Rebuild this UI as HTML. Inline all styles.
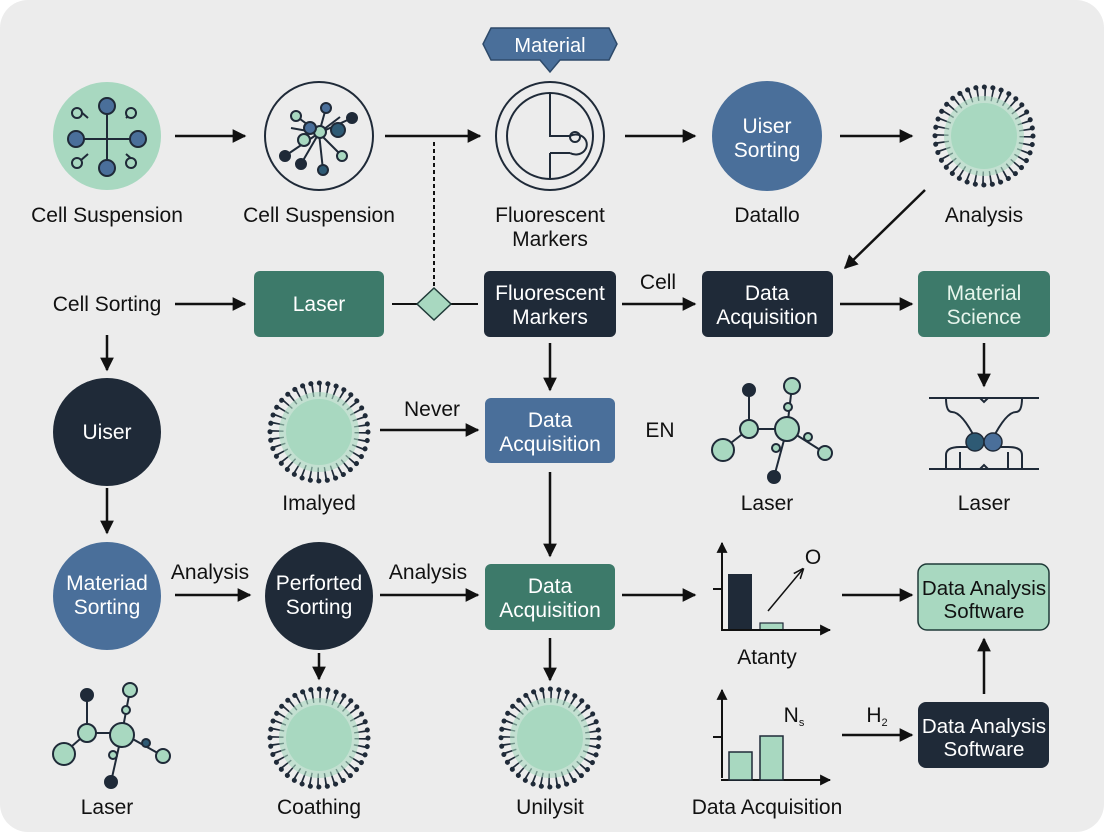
<!DOCTYPE html>
<html><head><meta charset="utf-8"><style>
html,body{margin:0;padding:0;background:#fff}
svg{display:block}
text{font-family:"Liberation Sans",sans-serif;}
</style></head><body>
<svg width="1104" height="832" viewBox="0 0 1104 832" xmlns="http://www.w3.org/2000/svg">
<defs>
<marker id="a" viewBox="0 0 10 10" refX="9" refY="5" markerWidth="5.5" markerHeight="5.5" orient="auto"><path d="M0,0L10,5L0,10z" fill="#111"/></marker>
<marker id="s" viewBox="0 0 10 10" refX="9" refY="5" markerWidth="7" markerHeight="7" orient="auto"><path d="M0,1L10,5L0,9" fill="none" stroke="#111" stroke-width="1.5"/></marker>
<g id="spk">
<circle r="42" fill="none" stroke="#1f2a38" stroke-width="13" stroke-dasharray="1.6 5.73"/>
<circle r="49" fill="none" stroke="#1f2a38" stroke-width="5" stroke-linecap="round" stroke-dasharray="0.1 8.45"/>
<circle r="40" fill="#a8d8c0" opacity="0.6"/>
<circle r="33" fill="#a8d8c0"/>
</g>
</defs>
<rect x="0" y="0" width="1104" height="832" rx="28" fill="#ececec"/>
<g stroke="#111" stroke-width="2.5" fill="none" marker-end="url(#a)">
<line x1="175" y1="136" x2="245" y2="136"/>
<line x1="385" y1="136" x2="480" y2="136"/>
<line x1="625" y1="136" x2="695" y2="136"/>
<line x1="840" y1="136" x2="912" y2="136"/>
<line x1="925" y1="190" x2="845" y2="268"/>
<line x1="175" y1="304" x2="245" y2="304"/>
<line x1="622" y1="304" x2="695" y2="304"/>
<line x1="840" y1="304" x2="912" y2="304"/>
<line x1="107" y1="335" x2="107" y2="370"/>
<line x1="550" y1="343" x2="550" y2="390"/>
<line x1="984" y1="343" x2="984" y2="386"/>
<line x1="380" y1="430" x2="478" y2="430"/>
<line x1="107" y1="488" x2="107" y2="533"/>
<line x1="550" y1="472" x2="550" y2="556"/>
<line x1="175" y1="595" x2="250" y2="595"/>
<line x1="380" y1="595" x2="478" y2="595"/>
<line x1="622" y1="595" x2="695" y2="595"/>
<line x1="842" y1="595" x2="912" y2="595"/>
<line x1="319" y1="653" x2="319" y2="679"/>
<line x1="550" y1="638" x2="550" y2="680"/>
<line x1="984" y1="694" x2="984" y2="639"/>
<line x1="842" y1="735" x2="912" y2="735"/>
</g>
<line x1="434" y1="142" x2="434" y2="288" stroke="#111" stroke-width="2" stroke-dasharray="4 3"/>
<line x1="392" y1="304" x2="478" y2="304" stroke="#111" stroke-width="2"/>
<path d="M434,288L451,304L434,320L417,304z" fill="#a8d8c0" stroke="#1f3a38" stroke-width="1.5"/>

<!-- row1 -->
<circle cx="107" cy="136" r="54" fill="#a8d8c0"/>
<g stroke="#1f2a38" stroke-width="2" fill="#4a6f9a">
<line x1="107" y1="106" x2="107" y2="166"/><line x1="75" y1="139" x2="139" y2="139"/>
<line x1="80" y1="111" x2="88" y2="118"/><line x1="134" y1="111" x2="126" y2="118"/>
<line x1="80" y1="161" x2="88" y2="154"/><line x1="134" y1="161" x2="126" y2="154"/>
<circle cx="107" cy="106" r="8"/><circle cx="107" cy="168" r="8"/><circle cx="76" cy="139" r="8"/><circle cx="138" cy="139" r="8"/>
<circle cx="77" cy="113" r="5" fill="#a8d8c0"/><circle cx="131" cy="113" r="5" fill="#a8d8c0"/>
<circle cx="77" cy="163" r="5" fill="#a8d8c0"/><circle cx="131" cy="163" r="5" fill="#a8d8c0"/>
</g>
<circle cx="319" cy="136" r="54" fill="none" stroke="#1f2a38" stroke-width="2"/>
<g stroke="#1f2a38" stroke-width="2">
<line x1="319" y1="133" x2="296" y2="116"/><line x1="319" y1="133" x2="326" y2="108"/><line x1="319" y1="133" x2="340" y2="117"/><line x1="319" y1="133" x2="352" y2="118"/><line x1="319" y1="133" x2="342" y2="156"/><line x1="319" y1="133" x2="323" y2="170"/><line x1="319" y1="133" x2="301" y2="164"/><line x1="319" y1="133" x2="285" y2="156"/><line x1="319" y1="133" x2="291" y2="128"/>
<circle cx="296" cy="116" r="5" fill="#a8d8c0"/><circle cx="326" cy="108" r="5" fill="#4a6f9a"/><circle cx="338" cy="130" r="7" fill="#2e5a74"/><circle cx="352" cy="118" r="5" fill="#1f2a38"/><circle cx="342" cy="156" r="5" fill="#a8d8c0"/><circle cx="323" cy="170" r="5" fill="#2e5a74"/><circle cx="301" cy="164" r="5" fill="#1f2a38"/><circle cx="285" cy="156" r="5" fill="#1f2a38"/><circle cx="304" cy="140" r="6" fill="#a8d8c0"/><circle cx="320" cy="132" r="6" fill="#a8d8c0"/><circle cx="310" cy="128" r="6" fill="#4a6f9a"/>
</g>
<circle cx="550" cy="136" r="54" fill="none" stroke="#1f2a38" stroke-width="2"/>
<circle cx="550" cy="136" r="43" fill="none" stroke="#1f2a38" stroke-width="2"/>
<path d="M550,93V136H570M550,153V179M550,153H570" fill="none" stroke="#1f2a38" stroke-width="2"/>
<path d="M570,136A11,10 0 1 1 570,153" fill="none" stroke="#1f2a38" stroke-width="2"/>
<circle cx="575" cy="137" r="5" fill="none" stroke="#1f2a38" stroke-width="2"/>
<path d="M491,28H609L617,44L609,60H560L550,72L540,60H491L483,44z" fill="#4a6f9a" stroke="#2e4a6a" stroke-width="1.5"/>
<text x="550" y="52" font-size="20" fill="#fff" text-anchor="middle">Material</text>
<circle cx="767" cy="136" r="55" fill="#4a6f9a"/>
<text x="767" y="133" font-size="21" fill="#fff" text-anchor="middle">Uiser</text>
<text x="767" y="157" font-size="21" fill="#fff" text-anchor="middle">Sorting</text>
<use href="#spk" x="984" y="136"/>
<g font-size="21" fill="#111" text-anchor="middle">
<text x="107" y="222">Cell Suspension</text>
<text x="319" y="222">Cell Suspension</text>
<text x="550" y="222">Fluorescent</text><text x="550" y="246">Markers</text>
<text x="767" y="222">Datallo</text>
<text x="984" y="222">Analysis</text>
<text x="107" y="311">Cell Sorting</text>
<text x="658" y="289">Cell</text>
</g>
<!-- row2 boxes -->
<rect x="254" y="271" width="130" height="66" rx="6" fill="#3d7a6a"/>
<text x="319" y="311" font-size="21" fill="#fff" text-anchor="middle">Laser</text>
<rect x="484" y="271" width="132" height="66" rx="6" fill="#1f2a38"/>
<text x="550" y="300" font-size="21" fill="#fff" text-anchor="middle">Fluorescent</text><text x="550" y="324" font-size="21" fill="#fff" text-anchor="middle">Markers</text>
<rect x="702" y="271" width="131" height="66" rx="6" fill="#1f2a38"/>
<text x="767" y="300" font-size="21" fill="#fff" text-anchor="middle">Data</text><text x="767" y="324" font-size="21" fill="#fff" text-anchor="middle">Acquisition</text>
<rect x="918" y="271" width="132" height="66" rx="6" fill="#3d7a6a"/>
<text x="984" y="300" font-size="21" fill="#e6f5ec" text-anchor="middle">Material</text><text x="984" y="324" font-size="21" fill="#e6f5ec" text-anchor="middle">Science</text>
<!-- row3 -->
<circle cx="107" cy="432" r="54" fill="#1f2a38"/>
<text x="107" y="439" font-size="21" fill="#fff" text-anchor="middle">Uiser</text>
<use href="#spk" x="319" y="432"/>
<rect x="485" y="398" width="130" height="65" rx="6" fill="#4a6f9a"/>
<text x="550" y="427" font-size="21" fill="#fff" text-anchor="middle">Data</text><text x="550" y="451" font-size="21" fill="#fff" text-anchor="middle">Acquisition</text>
<g stroke="#1f2a38" stroke-width="2">
<line x1="749" y1="429" x2="787" y2="429"/><line x1="749" y1="429" x2="723" y2="449"/><line x1="749" y1="429" x2="749" y2="390"/><line x1="787" y1="429" x2="792" y2="386"/><line x1="787" y1="429" x2="825" y2="453"/><line x1="787" y1="429" x2="774" y2="477"/>
<circle cx="749" cy="390" r="6" fill="#1f2a38"/><circle cx="792" cy="386" r="8" fill="#a8d8c0"/><circle cx="788" cy="407" r="4" fill="#a8d8c0"/><circle cx="749" cy="429" r="9" fill="#a8d8c0"/><circle cx="787" cy="429" r="12" fill="#a8d8c0"/><circle cx="723" cy="450" r="11" fill="#a8d8c0"/><circle cx="808" cy="437" r="4" fill="#a8d8c0"/><circle cx="825" cy="453" r="7" fill="#a8d8c0"/><circle cx="776" cy="448" r="4" fill="#a8d8c0"/><circle cx="774" cy="477" r="6" fill="#1f2a38"/>
</g>
<g stroke="#1f2a38" stroke-width="2" fill="none">
<line x1="929" y1="398" x2="1039" y2="398"/><line x1="929" y1="469" x2="1039" y2="469"/>
<path d="M946,398Q946,412 952,412Q962,412 976,440M1022,398Q1022,412 1016,412Q1006,412 992,440"/>
<path d="M946,469V455Q946,447 960,447H976M1022,469V455Q1022,447 1008,447H992M960,469V452M1008,469V452"/>
<path d="M980,398l4,4l4,-4M980,469l4,-4l4,4"/>
</g>
<circle cx="975" cy="442" r="9" fill="#2e5a74" stroke="#1f2a38" stroke-width="1.5"/>
<circle cx="993" cy="442" r="9" fill="#4a6f9a" stroke="#1f2a38" stroke-width="1.5"/>
<g font-size="21" fill="#111" text-anchor="middle">
<text x="319" y="510">Imalyed</text>
<text x="432" y="416">Never</text>
<text x="660" y="437">EN</text>
<text x="767" y="510">Laser</text>
<text x="984" y="510">Laser</text>
<text x="210" y="579">Analysis</text>
<text x="428" y="579">Analysis</text>
<text x="767" y="664">Atanty</text>
<text x="107" y="814">Laser</text>
<text x="319" y="814">Coathing</text>
<text x="550" y="814">Unilysit</text>
<text x="767" y="814">Data Acquisition</text>
<text x="813" y="564" font-size="21">O</text>
<text x="794" y="722">N<tspan font-size="11" dy="4">s</tspan></text>
<text x="877" y="722">H<tspan font-size="11" dy="4">2</tspan></text>
</g>
<!-- row4 -->
<circle cx="107" cy="596" r="54" fill="#4a6f9a"/>
<text x="107" y="590" font-size="21" fill="#fff" text-anchor="middle">Materiad</text><text x="107" y="614" font-size="21" fill="#fff" text-anchor="middle">Sorting</text>
<circle cx="319" cy="596" r="54" fill="#1f2a38"/>
<text x="319" y="590" font-size="21" fill="#fff" text-anchor="middle">Perforted</text><text x="319" y="614" font-size="21" fill="#fff" text-anchor="middle">Sorting</text>
<rect x="485" y="564" width="130" height="66" rx="6" fill="#3d7a6a"/>
<text x="550" y="593" font-size="21" fill="#fff" text-anchor="middle">Data</text><text x="550" y="617" font-size="21" fill="#fff" text-anchor="middle">Acquisition</text>
<rect x="728" y="574" width="24" height="56" fill="#1f2a38"/>
<rect x="760" y="623" width="23" height="7" fill="#a8d8c0" stroke="#1f2a38" stroke-width="1.2"/>
<g stroke="#111" stroke-width="2" fill="none">
<line x1="722" y1="631" x2="722" y2="543" marker-end="url(#a)"/><line x1="721" y1="630" x2="830" y2="630" marker-end="url(#a)"/><line x1="713" y1="589" x2="722" y2="589"/>
<line x1="722" y1="778" x2="722" y2="690" marker-end="url(#a)"/><line x1="721" y1="780" x2="830" y2="780" marker-end="url(#a)"/><line x1="713" y1="737" x2="722" y2="737"/>
</g>
<line x1="768" y1="611" x2="803" y2="569" stroke="#111" stroke-width="1.5" marker-end="url(#s)"/>
<rect x="729" y="752" width="23" height="28" fill="#a8d8c0" stroke="#1f2a38" stroke-width="1.5"/>
<rect x="760" y="736" width="23" height="44" fill="#a8d8c0" stroke="#1f2a38" stroke-width="1.5"/>
<rect x="918" y="564" width="131" height="66" rx="9" fill="#a8d8c0" stroke="#1f3a38" stroke-width="1.5"/>
<text x="984" y="595" font-size="20.5" fill="#111" text-anchor="middle">Data Analysis</text><text x="984" y="618" font-size="20.5" fill="#111" text-anchor="middle">Software</text>
<rect x="918" y="702" width="131" height="66" rx="8" fill="#1f2a38"/>
<text x="984" y="733" font-size="20.5" fill="#fff" text-anchor="middle">Data Analysis</text><text x="984" y="756" font-size="20.5" fill="#fff" text-anchor="middle">Software</text>
<!-- row5 -->
<g stroke="#1f2a38" stroke-width="2">
<line x1="87" y1="733" x2="122" y2="733"/><line x1="87" y1="733" x2="64" y2="753"/><line x1="87" y1="733" x2="87" y2="695"/><line x1="122" y1="733" x2="130" y2="690"/><line x1="122" y1="733" x2="163" y2="756"/><line x1="122" y1="733" x2="111" y2="782"/>
<circle cx="87" cy="695" r="6" fill="#1f2a38"/><circle cx="130" cy="690" r="7" fill="#a8d8c0"/><circle cx="126" cy="710" r="4" fill="#a8d8c0"/><circle cx="87" cy="733" r="9" fill="#a8d8c0"/><circle cx="122" cy="735" r="12" fill="#a8d8c0"/><circle cx="64" cy="754" r="11" fill="#a8d8c0"/><circle cx="146" cy="743" r="4" fill="#2e5a74"/><circle cx="163" cy="756" r="7" fill="#a8d8c0"/><circle cx="113" cy="755" r="4" fill="#a8d8c0"/><circle cx="111" cy="782" r="6" fill="#1f2a38"/>
</g>
<use href="#spk" x="319" y="738"/>
<use href="#spk" x="550" y="738"/>
</svg>
</body></html>
